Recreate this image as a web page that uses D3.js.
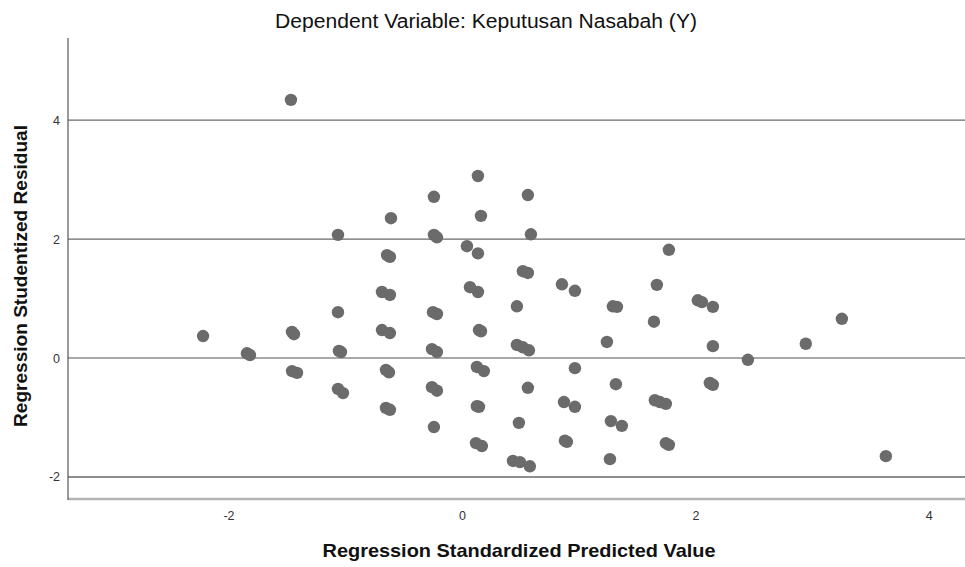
<!DOCTYPE html>
<html>
<head>
<meta charset="utf-8">
<script src="https://cdn.jsdelivr.net/npm/d3@7"></script>
<style>
  html, body { margin: 0; padding: 0; background: #ffffff; }
  svg { display: block; }
</style>
</head>
<body>
<svg id="chart" width="965" height="567"></svg>
<script>
const titleText = "Dependent Variable: Keputusan Nasabah (Y)";
const xLabel = "Regression Standardized Predicted Value";
const yLabel = "Regression Studentized Residual";
const xTicks = [-2, 0, 2, 4];
const yTicks = [-2, 0, 2, 4];
const xDomain = [-3.375, 4.31];
const yDomain = [-2.37, 5.38];

const predicted = [
  -1.465, -2.218, -1.842, -1.816, -1.456, -1.439, -1.456, -1.413,
  -1.062, -1.062, -1.054, -1.036, -1.062, -1.019,
  -0.608, -0.642, -0.617, -0.685, -0.617, -0.685, -0.617, -0.651, -0.625, -0.651, -0.617,
  -0.240, -0.240, -0.214, -0.248, -0.214, -0.257, -0.214, -0.257, -0.214, -0.240,
  0.137, 0.163, 0.043, 0.137, 0.069, 0.137, 0.146, 0.163, 0.128, 0.188, 0.128, 0.146, 0.120, 0.171,
  0.565, 0.591, 0.522, 0.565, 0.471, 0.471, 0.522, 0.574, 0.565, 0.488, 0.437, 0.497, 0.582,
  0.857, 0.968, 0.968, 0.874, 0.968, 0.882, 0.899,
  1.242, 1.293, 1.328, 1.319, 1.276, 1.370, 1.268,
  1.773, 1.670, 1.645, 1.653, 1.696, 1.747, 1.747, 1.773,
  2.021, 2.056, 2.150, 2.150, 2.124, 2.150,
  2.450, 2.946, 3.255, 3.632
];
const residual = [
  4.34, 0.37, 0.08, 0.05, 0.44, 0.40, -0.22, -0.25,
  2.07, 0.77, 0.12, 0.10, -0.52, -0.59,
  2.35, 1.73, 1.70, 1.11, 1.06, 0.47, 0.42, -0.20, -0.24, -0.84, -0.87,
  2.71, 2.07, 2.03, 0.77, 0.74, 0.15, 0.10, -0.49, -0.55, -1.16,
  3.06, 2.39, 1.88, 1.76, 1.19, 1.11, 0.47, 0.45, -0.15, -0.22, -0.81, -0.82, -1.43, -1.48,
  2.74, 2.08, 1.46, 1.43, 0.87, 0.22, 0.18, 0.13, -0.50, -1.09, -1.73, -1.75, -1.82,
  1.24, 1.13, -0.17, -0.74, -0.82, -1.39, -1.41,
  0.27, 0.87, 0.86, -0.44, -1.06, -1.14, -1.70,
  1.82, 1.23, 0.61, -0.71, -0.74, -0.77, -1.43, -1.46,
  0.97, 0.94, 0.86, 0.20, -0.42, -0.45,
  -0.03, 0.24, 0.66, -1.65
];

const points = predicted.map((x, i) => ({ x: x, y: residual[i] }));

const plot = { left: 68, right: 965, top: 38, bottom: 499 };
const svg = d3.select("#chart");
const font = "'Liberation Sans', Arial, sans-serif";

const x = d3.scaleLinear().domain(xDomain).range([plot.left, plot.right]);
const y = d3.scaleLinear().domain(yDomain).range([plot.bottom, plot.top]);

// horizontal grid / reference lines
svg.append("g").selectAll("line").data(yTicks).join("line")
  .attr("x1", plot.left).attr("x2", plot.right)
  .attr("y1", d => y(d)).attr("y2", d => y(d))
  .attr("stroke", d => d === 0 ? "#a8a8a8" : "#6a6a6a")
  .attr("stroke-width", d => d === 0 ? 2 : 1.3);

// bottom axis line
svg.append("line")
  .attr("x1", plot.left).attr("x2", plot.right)
  .attr("y1", plot.bottom).attr("y2", plot.bottom)
  .attr("stroke", "#b4b4b4").attr("stroke-width", 2.5);

// left axis line
svg.append("line")
  .attr("x1", plot.left).attr("x2", plot.left)
  .attr("y1", plot.top).attr("y2", plot.bottom + 1)
  .attr("stroke", "#555555").attr("stroke-width", 1.2);

const fmt = d => String(d);

// x tick labels via axis generator
const xAxis = d3.axisBottom(x).tickValues(xTicks).tickSize(0).tickPadding(0).tickFormat(fmt);
const gx = svg.append("g").attr("transform", `translate(0,${plot.bottom + 12})`).call(xAxis);
gx.select(".domain").remove();
gx.selectAll("text").attr("font-family", font).attr("font-size", 12.5).attr("fill", "#333").attr("dy", "0.71em");

const yAxis = d3.axisLeft(y).tickValues(yTicks).tickSize(0).tickPadding(0).tickFormat(fmt);
const gy = svg.append("g").attr("transform", `translate(${plot.left - 8},0)`).call(yAxis);
gy.select(".domain").remove();
gy.selectAll("text").attr("font-family", font).attr("font-size", 12.5).attr("fill", "#333");

// points
svg.append("g").selectAll("circle").data(points).join("circle")
  .attr("cx", d => x(d.x)).attr("cy", d => y(d.y))
  .attr("r", 6.2)
  .attr("fill", "#6b6b6b");

// title
svg.append("text")
  .attr("x", 486).attr("y", 28)
  .attr("text-anchor", "middle")
  .attr("font-family", font).attr("font-size", 19.5)
  .attr("textLength", 422).attr("lengthAdjust", "spacingAndGlyphs")
  .attr("fill", "#111")
  .text(titleText);

// x label
svg.append("text")
  .attr("x", 519).attr("y", 557)
  .attr("text-anchor", "middle")
  .attr("font-family", font).attr("font-size", 19).attr("font-weight", "bold")
  .attr("textLength", 393).attr("lengthAdjust", "spacingAndGlyphs")
  .attr("fill", "#111")
  .text(xLabel);

// y label
svg.append("text")
  .attr("transform", "translate(27,276) rotate(-90)")
  .attr("text-anchor", "middle")
  .attr("font-family", font).attr("font-size", 19).attr("font-weight", "bold")
  .attr("textLength", 302).attr("lengthAdjust", "spacingAndGlyphs")
  .attr("fill", "#111")
  .text(yLabel);
</script>
</body>
</html>
